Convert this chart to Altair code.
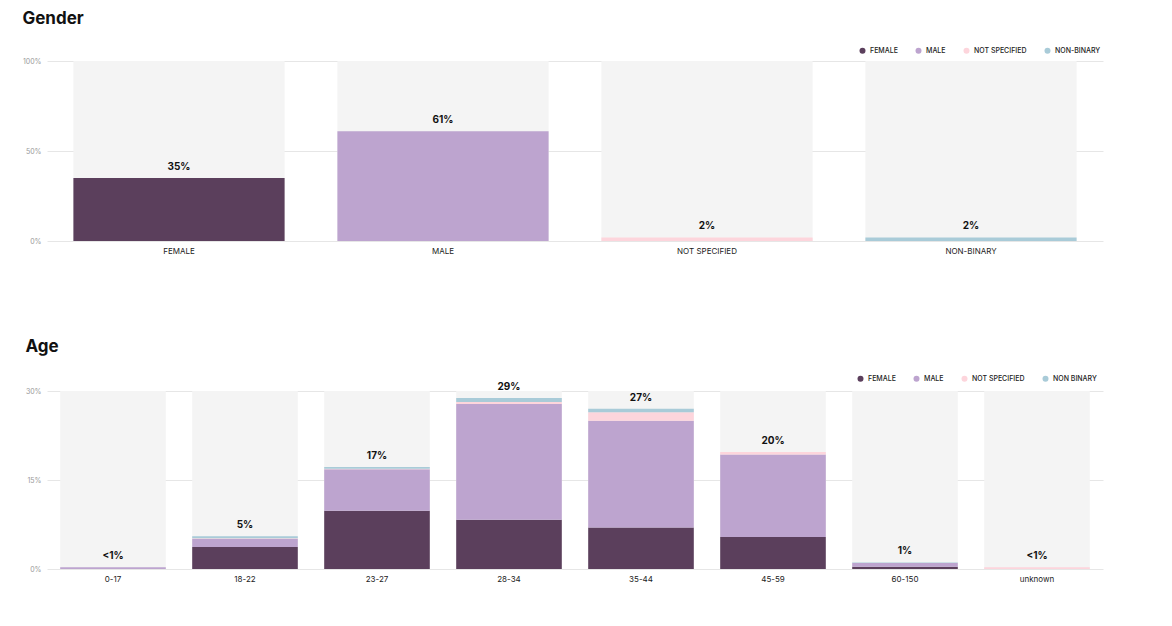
import altair as alt
import pandas as pd

# ---------------- data ----------------
gender_cats = ["FEMALE", "MALE", "NOT SPECIFIED", "NON-BINARY"]
gender_series = ["FEMALE", "MALE", "NOT SPECIFIED", "NON-BINARY"]
gender_female = [35, 0, 0, 0]
gender_male = [0, 61, 0, 0]
gender_ns = [0, 0, 2, 0]
gender_nb = [0, 0, 0, 2]
gender_labels = ["35%", "61%", "2%", "2%"]
gender_ticks = [0, 50, 100]

age_cats = ["0-17", "18-22", "23-27", "28-34", "35-44", "45-59", "60-150", "unknown"]
age_series = ["FEMALE", "MALE", "NOT SPECIFIED", "NON BINARY"]
age_female = [0.0, 3.7, 9.8, 8.3, 7.0, 5.4, 0.4, 0.0]
age_male = [0.3, 1.4, 7.0, 19.5, 18.0, 13.9, 0.6, 0.0]
age_ns = [0.0, 0.1, 0.1, 0.35, 1.4, 0.4, 0.0, 0.3]
age_nb = [0.0, 0.3, 0.3, 0.65, 0.6, 0.0, 0.1, 0.0]
age_labels = ["<1%", "5%", "17%", "29%", "27%", "20%", "1%", "<1%"]
age_ticks = [0, 15, 30]

colors = ["#5b3f5c", "#bda4cf", "#fdd5dc", "#a9cbd8"]
FONT = "Inter"


def panel(title, cats, series, stacks, labels, ymax, ticks, height, legend_x, legend_y):
    rows = []
    for si, s in enumerate(series):
        for ci, c in enumerate(cats):
            rows.append({"cat": c, "series": s, "order": si, "value": stacks[si][ci]})
    df = pd.DataFrame(rows)
    totals = [sum(st[ci] for st in stacks) for ci in range(len(cats))]
    bg = pd.DataFrame({"cat": cats, "top": [ymax] * len(cats)})
    lab = pd.DataFrame({"cat": cats, "total": totals, "label": labels})

    xenc = alt.X(
        "cat:N", sort=cats,
        scale=alt.Scale(paddingInner=0.2, paddingOuter=0.1),
        axis=alt.Axis(title=None, labelAngle=0, domain=False, ticks=False,
                      labelFontSize=8, labelColor="#222", labelPadding=6,
                      labelFont=FONT),
    )
    yscale = alt.Scale(domain=[0, ymax], nice=False)

    background = alt.Chart(bg).mark_bar(color="#f4f4f4").encode(
        x=xenc,
        y=alt.Y("top:Q", scale=yscale,
                axis=alt.Axis(title=None, values=ticks, labelExpr="datum.value + '%'",
                              domain=False, ticks=False, grid=True,
                              gridColor="#e6e6e6", labelFontSize=7,
                              labelColor="#999", labelPadding=6, labelFont=FONT)),
    )

    bars = alt.Chart(df).mark_bar().encode(
        x=xenc,
        y=alt.Y("value:Q", stack="zero", scale=yscale),
        color=alt.Color(
            "series:N",
            scale=alt.Scale(domain=series, range=colors),
            legend=alt.Legend(title=None, orient="none", direction="horizontal",
                              legendX=legend_x, legendY=legend_y, symbolType="circle",
                              symbolSize=36, symbolStrokeWidth=0,
                              labelFontSize=7, labelFont=FONT, labelFontWeight=500,
                              labelColor="#222", columnPadding=17),
        ),
        order=alt.Order("order:Q"),
    )

    text = alt.Chart(lab).mark_text(
        dy=-11, fontWeight="bold", fontSize=10, baseline="middle", font=FONT,
        color="#111",
    ).encode(x=xenc, y=alt.Y("total:Q", scale=yscale), text="label:N")

    return alt.layer(background, bars, text).properties(
        width=1056, height=height,
        title=alt.TitleParams(title, anchor="start", frame="bounds", fontSize=17,
                              fontWeight="bold", font=FONT, color="#111", offset=19),
    )


gender = panel("Gender", gender_cats, gender_series,
               [gender_female, gender_male, gender_ns, gender_nb],
               gender_labels, 100, gender_ticks, 180, 812, -14)
age = panel("Age", age_cats, age_series,
            [age_female, age_male, age_ns, age_nb],
            age_labels, 30, age_ticks, 178, 810, -16)

chart = alt.vconcat(gender, age, spacing=83).resolve_scale(
    color="independent", x="independent", y="independent"
).properties(
    padding={"left": 14, "top": 2, "right": 5, "bottom": 5}
).configure_view(stroke=None)

chart.save("out.html", embed_options={"renderer": "svg", "actions": False})
